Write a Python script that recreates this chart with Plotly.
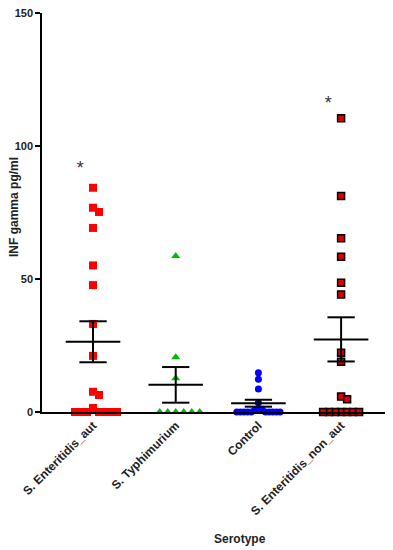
import plotly.graph_objects as go

categories = ["S. Enteritidis_aut", "S. Typhimurium", "Control", "S. Enteritidis_non_aut"]

enteritidis_aut = [84.3, 76.8, 75.2, 69.2, 55.1, 47.7, 33.1, 21.1, 7.6, 6.4, 1.5, 0, 0, 0, 0, 0, 0, 0]
typhimurium = [58.6, 20.6, 12.7, 0, 0, 0, 0, 0, 0]
control = [14.8, 12.3, 8.6, 3.5, 1.2, 1.0, 0.8, 0, 0, 0, 0, 0, 0, 0, 0, 0, 0]
enteritidis_non_aut = [110.4, 81.2, 65.3, 58.4, 48.6, 44.2, 22.3, 18.9, 5.8, 4.8, 0, 0, 0, 0, 0, 0, 0]

means = [26.4, 10.2, 3.3, 27.3]
sems = [7.7, 6.7, 1.3, 8.3]

star_labels = ["*", "", "", "*"]
star_values = [91, None, None, 115.5]

groups = [enteritidis_aut, typhimurium, control, enteritidis_non_aut]

# layout geometry (page body has an 8px margin)
W, H = 385, 542
ML, MR, MT, MB = 34, 6, 5, 138
XR = [-0.617, 3.555]
YR = [0, 150]
px_per_x = (W - ML - MR) / (XR[1] - XR[0])
px_per_y = (H - MT - MB) / (YR[1] - YR[0])

styles = [
    dict(symbol="square", size=8, color="#ff0000", line=dict(width=0), step=6.0),
    dict(symbol="triangle-up", size=8, color="#00bb00", line=dict(width=0), step=8.0),
    dict(symbol="circle", size=7, color="#0000ff", line=dict(width=0), step=3.6),
    dict(symbol="square", size=7, color="#dd0000", line=dict(width=1.5, color="black"), step=6.0),
]


def swarm(values, step):
    placed = []
    offs = [0] * len(values)
    order = sorted(range(len(values)), key=lambda i: -values[i])
    for i in order:
        ypx = values[i] * px_per_y
        k = 0
        while True:
            cands = [0] if k == 0 else [k, -k]
            ok = None
            for c in cands:
                xpx = c * step
                if all((xpx - px) ** 2 + (ypx - py) ** 2 >= (step * 0.98) ** 2 for px, py in placed):
                    ok = xpx
                    break
            if ok is not None:
                placed.append((ok, ypx))
                offs[i] = ok / px_per_x
                break
            k += 1
    return offs


fig = go.Figure()

for gi, vals in enumerate(groups):
    st = styles[gi]
    offs = swarm(vals, st["step"])
    fig.add_trace(go.Scatter(
        x=[gi + o for o in offs], y=vals, mode="markers",
        marker=dict(symbol=st["symbol"], size=st["size"], color=st["color"], line=st["line"]),
        cliponaxis=False, showlegend=False, hoverinfo="y"))

# mean +/- SEM
mean_half = 0.33
cap_half = 0.165
for gi in range(4):
    m, s = means[gi], sems[gi]
    fig.add_trace(go.Scatter(
        x=[gi - mean_half, gi + mean_half, None, gi - cap_half, gi + cap_half, None,
           gi - cap_half, gi + cap_half, None, gi, gi],
        y=[m, m, None, m + s, m + s, None, m - s, m - s, None, m - s, m + s],
        mode="lines", line=dict(color="black", width=2), cliponaxis=False,
        showlegend=False, hoverinfo="skip"))

# significance stars
for gi in range(4):
    if star_labels[gi]:
        fig.add_trace(go.Scatter(
            x=[gi - 0.155], y=[star_values[gi]], mode="text", text=[star_labels[gi]],
            textposition="middle center",
            textfont=dict(family="Liberation Sans, Arial", size=18, color="#333333"),
            showlegend=False, hoverinfo="skip"))

font_family = "Liberation Sans, Arial, sans-serif"

fig.update_layout(
    width=W, height=H,
    margin=dict(l=ML, r=MR, t=MT, b=MB),
    plot_bgcolor="white", paper_bgcolor="white",
    font=dict(family=font_family, color="#222222"),
    xaxis=dict(range=XR, tickvals=[0, 1, 2, 3], ticktext=categories, tickangle=-45,
               showline=True, linecolor="black", linewidth=1.5, showgrid=False,
               zeroline=False, ticks="", ticklen=0, automargin=False,
               ticklabeloverflow="allow",
               tickfont=dict(family=font_family, size=12, weight="bold", color="#222222")),
    yaxis=dict(range=YR, tickvals=[0, 50, 100, 150], showline=True, linecolor="black",
               linewidth=1.5, showgrid=False, zeroline=False, ticks="outside", ticklen=5,
               tickwidth=1.5, tickcolor="black", automargin=False,
               ticklabeloverflow="allow",
               tickfont=dict(family=font_family, size=11, weight="bold", color="#222222")),
    annotations=[
        dict(text="INF gamma pg/ml", xref="paper", yref="paper", x=-0.081, y=0.514,
             textangle=-90, showarrow=False, xanchor="center", yanchor="middle",
             font=dict(family=font_family, size=12, weight="bold", color="#222222")),
        dict(text="Serotype", xref="paper", yref="paper", x=0.574, y=-0.318,
             showarrow=False, xanchor="center", yanchor="middle",
             font=dict(family=font_family, size=12, weight="bold", color="#222222")),
    ],
)

fig.write_html("out.html")
